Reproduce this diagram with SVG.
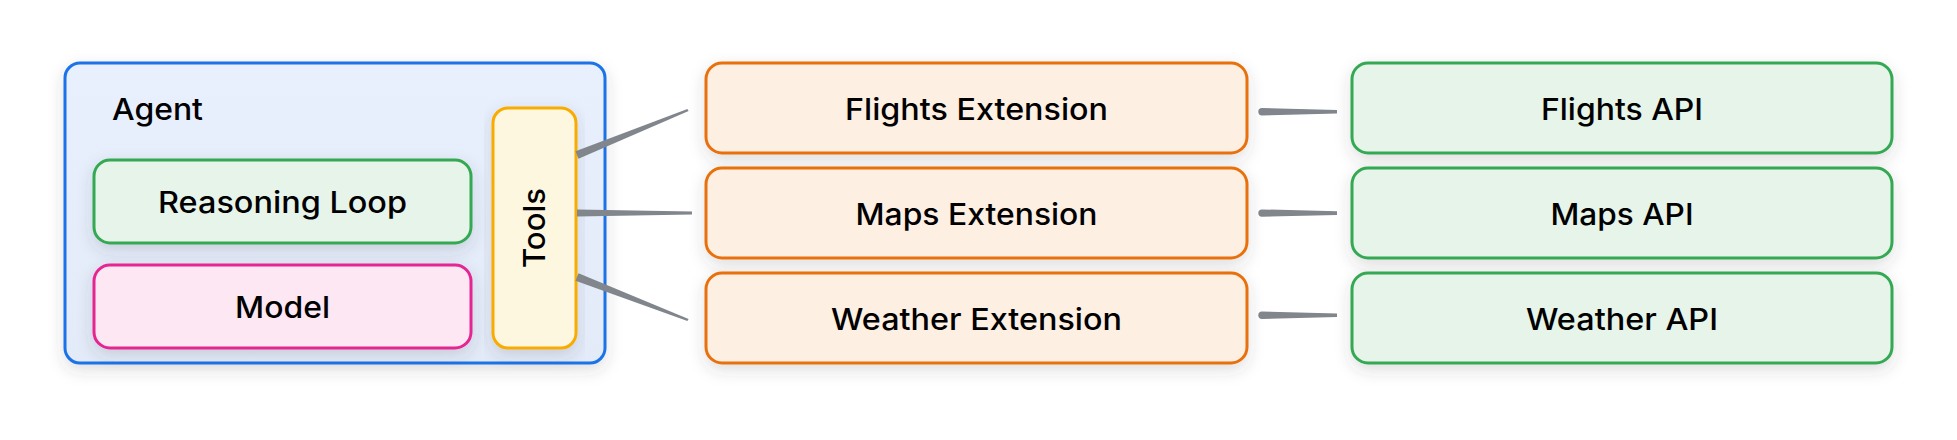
<svg xmlns="http://www.w3.org/2000/svg" width="1957" height="440" viewBox="0 0 1957 440">
<defs>
<filter id="sh" x="-10%" y="-20%" width="120%" height="150%">
<feDropShadow dx="0" dy="6" stdDeviation="8" flood-color="#3c4043" flood-opacity="0.16"/>
</filter>
<linearGradient id="agentFill" x1="0" y1="0" x2="0" y2="1">
<stop offset="0" stop-color="#e8f0fe"/>
<stop offset="1" stop-color="#e3eaf8"/>
</linearGradient>
</defs>
<style>
text{font-family:Inter,"Noto Sans",sans-serif;font-size:30px;font-weight:500;fill:#000;}
.c{text-anchor:middle;}
.box{stroke-width:3;}
.ext{fill:#feefe3;stroke:#e8710a;}
.api{fill:#e6f4ea;stroke:#34a853;}
.conn{fill:#80868b;}
</style>
<rect width="1957" height="440" fill="#ffffff"/>
<g id="agent">
<rect class="box" x="65" y="63" width="540" height="300" rx="15" fill="url(#agentFill)" stroke="#1a73e8" filter="url(#sh)"/>
<text x="112" y="120" textLength="91" lengthAdjust="spacingAndGlyphs">Agent</text>
</g>
<g id="reasoning-loop">
<rect class="box" x="94" y="160" width="377" height="83" rx="16" fill="#e6f4ea" stroke="#34a853" filter="url(#sh)"/>
<text class="c" x="282.5" y="213" textLength="249" lengthAdjust="spacingAndGlyphs">Reasoning Loop</text>
</g>
<g id="model">
<rect class="box" x="94" y="265" width="377" height="83" rx="16" fill="#fde7f3" stroke="#e52592" filter="url(#sh)"/>
<text class="c" x="282.5" y="318" textLength="95" lengthAdjust="spacingAndGlyphs">Model</text>
</g>
<g id="tools">
<rect class="box" x="493" y="108" width="83" height="240" rx="15" fill="#fef7e0" stroke="#f9ab00" filter="url(#sh)"/>
<text class="c" transform="translate(545,228) rotate(-90)" x="0" y="0" textLength="80" lengthAdjust="spacingAndGlyphs">Tools</text>
</g>
<g id="flights-extension">
<rect class="box ext" x="706" y="63" width="541" height="90" rx="16" filter="url(#sh)"/>
<text class="c" x="976.5" y="120" textLength="263" lengthAdjust="spacingAndGlyphs">Flights Extension</text>
</g>
<g id="maps-extension">
<rect class="box ext" x="706" y="168" width="541" height="90" rx="16" filter="url(#sh)"/>
<text class="c" x="976.5" y="225" textLength="242" lengthAdjust="spacingAndGlyphs">Maps Extension</text>
</g>
<g id="weather-extension">
<rect class="box ext" x="706" y="273" width="541" height="90" rx="16" filter="url(#sh)"/>
<text class="c" x="976.5" y="330" textLength="291" lengthAdjust="spacingAndGlyphs">Weather Extension</text>
</g>
<g id="flights-api">
<rect class="box api" x="1352" y="63" width="540" height="90" rx="16" filter="url(#sh)"/>
<text class="c" x="1622" y="120" textLength="162" lengthAdjust="spacingAndGlyphs">Flights API</text>
</g>
<g id="maps-api">
<rect class="box api" x="1352" y="168" width="540" height="90" rx="16" filter="url(#sh)"/>
<text class="c" x="1622" y="225" textLength="143" lengthAdjust="spacingAndGlyphs">Maps API</text>
</g>
<g id="weather-api">
<rect class="box api" x="1352" y="273" width="540" height="90" rx="16" filter="url(#sh)"/>
<text class="c" x="1622" y="330" textLength="192" lengthAdjust="spacingAndGlyphs">Weather API</text>
</g>
<g id="connectors">
<polygon class="conn" points="575.5,151.3 687.4,108.9 688.6,111.1 578.5,158.7"/>
<polygon class="conn" points="577,209.5 692,211.4 692,214.6 577,216.5"/>
<polygon class="conn" points="578.5,273.3 688.6,318.9 687.4,321.1 575.5,280.7"/>
<path class="conn" d="M1262,108 L1337,109.9 L1337,113.5 L1262,115.4 A3.7,3.7 0 0 1 1262,108 Z"/>
<path class="conn" d="M1262,209.4 L1337,211.3 L1337,214.9 L1262,216.8 A3.7,3.7 0 0 1 1262,209.4 Z"/>
<path class="conn" d="M1262,311.6 L1337,313.5 L1337,317.1 L1262,319 A3.7,3.7 0 0 1 1262,311.6 Z"/>
</g>
</svg>
